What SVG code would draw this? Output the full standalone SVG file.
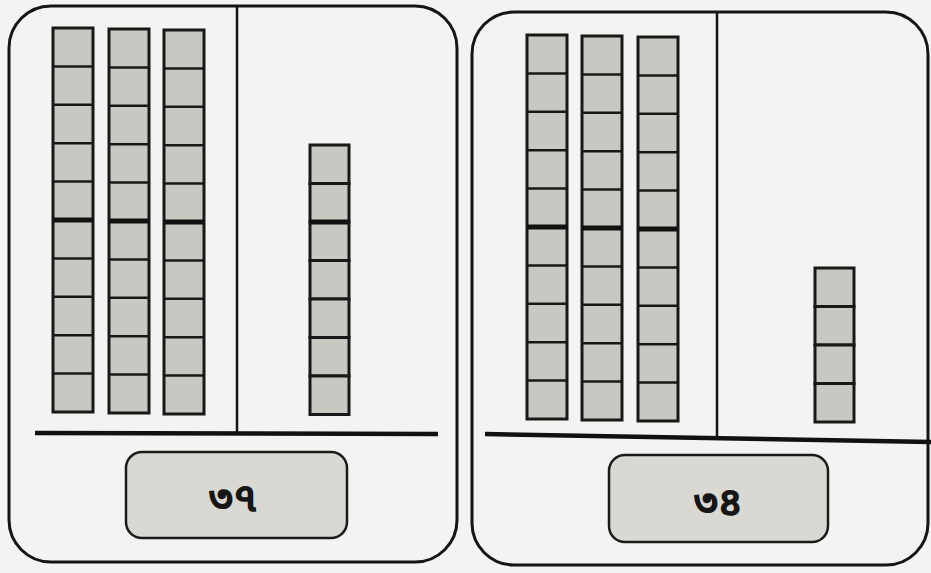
<svg xmlns="http://www.w3.org/2000/svg" xmlns:xlink="http://www.w3.org/1999/xlink" width="931" height="573" viewBox="0 0 931 573">
<style>
.card{fill:none;stroke:#151515;stroke-width:3}
.rule{stroke:#111;stroke-width:4.5;fill:none}
.div{stroke:#151515;stroke-width:2.5;fill:none}
.cell{fill:#c9c7c1;stroke:#181818;stroke-width:3}
.sep{stroke:#181818;stroke-width:2.5}
.sepb{stroke:#111;stroke-width:5}
.lab{fill:#d9d8d2;stroke:#1a1a1a;stroke-width:2.5}
.num{font-family:"Noto Sans Bengali","Noto Sans","Noto Sans CJK SC",sans-serif;font-size:40px;font-weight:bold;fill:#161616;text-anchor:middle}
</style>
<defs>
<g id="ten">
<rect class="cell" x="0" y="0" width="40" height="384"/>
<line class="sep" x1="0" y1="38.4" x2="40" y2="38.4"/>
<line class="sep" x1="0" y1="76.8" x2="40" y2="76.8"/>
<line class="sep" x1="0" y1="115.2" x2="40" y2="115.2"/>
<line class="sep" x1="0" y1="153.6" x2="40" y2="153.6"/>
<line class="sepb" x1="0" y1="192" x2="40" y2="192"/>
<line class="sep" x1="0" y1="230.4" x2="40" y2="230.4"/>
<line class="sep" x1="0" y1="268.8" x2="40" y2="268.8"/>
<line class="sep" x1="0" y1="307.2" x2="40" y2="307.2"/>
<line class="sep" x1="0" y1="345.6" x2="40" y2="345.6"/>
</g>
<rect id="one" class="cell" x="0" y="0" width="39" height="38.5"/>
</defs>
<rect x="0" y="0" width="931" height="573" fill="#f3f3f1"/>

<g id="card-37">
<rect class="card" x="9" y="6" width="448" height="556" rx="42"/>
<line class="div" x1="237" y1="6" x2="237" y2="433"/>
<line class="rule" x1="35" y1="433" x2="438" y2="434"/>
<g id="tens-37">
<use xlink:href="#ten" x="53" y="28"/>
<use xlink:href="#ten" x="109" y="29"/>
<use xlink:href="#ten" x="164" y="30"/>
</g>
<g id="ones-37">
<use xlink:href="#one" x="310" y="145"/>
<use xlink:href="#one" x="310" y="183.5"/>
<use xlink:href="#one" x="310" y="222"/>
<use xlink:href="#one" x="310" y="260.5"/>
<use xlink:href="#one" x="310" y="299"/>
<use xlink:href="#one" x="310" y="337.5"/>
<use xlink:href="#one" x="310" y="376"/>
<line class="sepb" x1="310" y1="222" x2="349" y2="222"/>
</g>
<g id="label-37">
<rect class="lab" x="126" y="452" width="221" height="86" rx="16"/>
<text class="num" x="233" y="511">৩৭</text>
</g>
</g>

<g id="card-34">
<rect class="card" x="472" y="12" width="456" height="553" rx="42"/>
<line class="div" x1="717" y1="13" x2="717" y2="436"/>
<line class="rule" x1="485" y1="434" x2="931" y2="442"/>
<g id="tens-34">
<use xlink:href="#ten" x="527" y="35"/>
<use xlink:href="#ten" x="582" y="36"/>
<use xlink:href="#ten" x="638" y="37"/>
</g>
<g id="ones-34">
<use xlink:href="#one" x="815" y="268"/>
<use xlink:href="#one" x="815" y="306.5"/>
<use xlink:href="#one" x="815" y="345"/>
<use xlink:href="#one" x="815" y="383.5"/>
</g>
<g id="label-34">
<rect class="lab" x="609" y="455" width="219" height="87" rx="16"/>
<text class="num" x="718" y="515">৩৪</text>
</g>
</g>
</svg>
